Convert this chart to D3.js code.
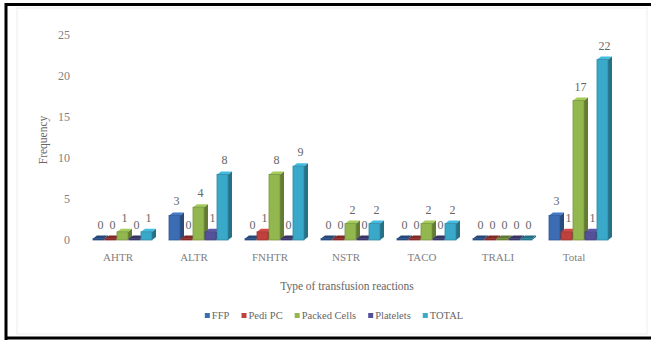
<!DOCTYPE html>
<html>
<head>
<meta charset="utf-8">
<script src="https://cdn.jsdelivr.net/npm/d3@7/dist/d3.min.js"></script>
<style>
  html, body { margin: 0; padding: 0; background: #fff; }
</style>
</head>
<body>
<div id="chart"></div>
<script>
// chart values
const categories = ['AHTR', 'ALTR', 'FNHTR', 'NSTR', 'TACO', 'TRALI', 'Total'];
const seriesNames = ['FFP', 'Pedi PC', 'Packed Cells', 'Platelets', 'TOTAL'];
const ffp = [0, 3, 0, 0, 0, 0, 3];
const pediPC = [0, 0, 1, 0, 0, 0, 1];
const packedCells = [1, 4, 8, 2, 2, 0, 17];
const platelets = [0, 1, 0, 0, 0, 0, 1];
const totalValues = [1, 8, 9, 2, 2, 0, 22];
const yTicks = [0, 5, 10, 15, 20, 25];
const colors = ['#3c6db4', '#c0403d', '#93b74f', '#55509a', '#3aa8c8'];

const seriesValues = [ffp, pediPC, packedCells, platelets, totalValues];

const serif = '"Liberation Serif", "DejaVu Serif", serif';
const width = 651, height = 341;
const depthX = 4, depthY = 3;

const svg = d3.select('#chart')
  .append('svg')
  .attr('width', width)
  .attr('height', height)
  .attr('font-family', serif);

// frame
svg.append('rect')
  .attr('x', 17).attr('y', 8).attr('width', 630).attr('height', 326)
  .attr('fill', 'none').attr('stroke', '#eeeeee');
svg.append('path')
  .attr('d', 'M6,340 V4.5 H651 M6,338 H651')
  .attr('fill', 'none').attr('stroke', '#000').attr('stroke-width', 3);

const x = d3.scaleBand().domain(categories).range([80, 612]);
const xs = d3.scaleBand().domain(seriesNames).range([0, 60]);
const y = d3.scaleLinear().domain([0, 25]).range([240, 35]);

// y axis
const yAxis = svg.append('g')
  .attr('transform', 'translate(73,0)')
  .call(d3.axisLeft(y).tickValues(yTicks).tickSize(0).tickPadding(3));
yAxis.attr('font-family', serif);
yAxis.select('.domain').remove();
yAxis.selectAll('text').style('font-size', '12px').style('fill', '#7f7f7f');

svg.append('text')
  .attr('transform', 'translate(47,140) rotate(-90)')
  .attr('text-anchor', 'middle')
  .style('font-family', serif)
  .style('font-size', '11.5px')
  .style('fill', '#666')
  .text('Frequency');

// x axis
const xAxis = svg.append('g')
  .attr('transform', 'translate(0,250)')
  .call(d3.axisBottom(x).tickSize(0).tickPadding(3));
xAxis.attr('font-family', serif);
xAxis.select('.domain').remove();
xAxis.selectAll('text').style('font-size', '11px').style('fill', '#7f7f7f');

svg.append('text')
  .attr('x', 347).attr('y', 290)
  .attr('text-anchor', 'middle')
  .style('font-family', serif)
  .style('font-size', '11.5px')
  .style('fill', '#666')
  .text('Type of transfusion reactions');

// bars
const rows = [];
categories.forEach((c, i) => {
  seriesNames.forEach((s, j) => {
    rows.push({ cat: c, series: s, idx: j, value: seriesValues[j][i] });
  });
});

const barW = xs.bandwidth() - 1;
const groupX = d => x(d.cat) + x.bandwidth() / 2 - 25 + xs(d.series);

const bars = svg.append('g').selectAll('g.bar')
  .data(rows)
  .enter()
  .append('g')
  .attr('class', 'bar');

bars.each(function (d) {
  const g = d3.select(this);
  const x0 = groupX(d);
  const top = Math.min(y(d.value), y(0) - 1.5);
  const base = y(0);
  const c = d3.color(colors[d.idx]);
  const zero = d.value === 0;
  const front = zero ? c.darker(1.4) : c;
  // side face
  g.append('path')
    .attr('d', `M${x0 + barW},${base} L${x0 + barW + depthX},${base - depthY} L${x0 + barW + depthX},${top - depthY} L${x0 + barW},${top} Z`)
    .attr('fill', c.darker(1.1));
  // top face
  g.append('path')
    .attr('d', `M${x0},${top} L${x0 + depthX},${top - depthY} L${x0 + barW + depthX},${top - depthY} L${x0 + barW},${top} Z`)
    .attr('fill', zero ? c.darker(1.2) : c.brighter(0.3));
  // front face
  g.append('rect')
    .attr('x', x0).attr('y', top)
    .attr('width', barW).attr('height', base - top)
    .attr('fill', front)
    .attr('stroke', c.darker(0.6)).attr('stroke-width', 0.8);
});

// data labels
svg.append('g').selectAll('text')
  .data(rows)
  .enter()
  .append('text')
  .attr('x', d => groupX(d) + barW / 2 + 2)
  .attr('y', d => Math.min(y(d.value), y(0) - 1.5) - 10)
  .attr('text-anchor', 'middle')
  .style('font-family', serif)
  .style('font-size', '12px')
  .style('fill', '#666')
  .text(d => d.value);

// legend
const legend = svg.append('g').attr('transform', 'translate(0,316)');
let lx = 0;
const items = legend.selectAll('g')
  .data(seriesNames)
  .enter()
  .append('g');
items.append('rect')
  .attr('width', 5).attr('height', 5).attr('y', -3)
  .attr('fill', (d, i) => colors[i]);
items.append('text')
  .attr('x', 7).attr('y', 0).attr('dy', '0.32em')
  .style('font-family', serif)
  .style('font-size', '10.5px')
  .style('fill', '#666')
  .text(d => d);
items.each(function () {
  const w = this.getBBox().width;
  d3.select(this).attr('transform', `translate(${lx},0)`);
  lx += w + 12;
});
legend.attr('transform', `translate(${334 - (lx - 12) / 2},316)`);
</script>
</body>
</html>
